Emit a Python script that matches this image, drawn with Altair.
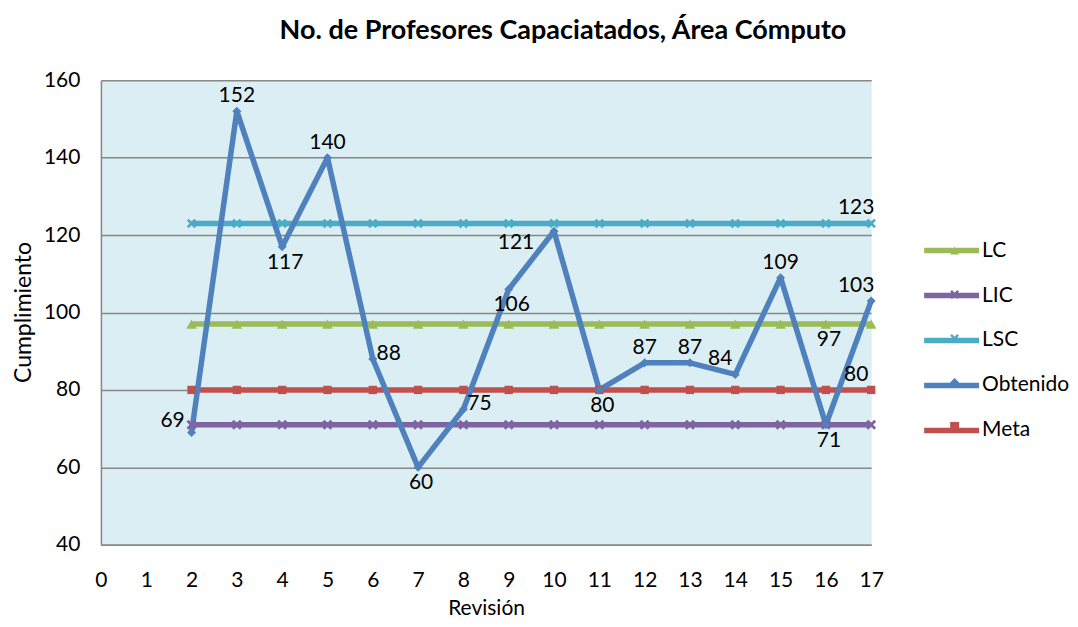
import altair as alt
import pandas as pd

# ---------------- data ----------------
revision = [2, 3, 4, 5, 6, 7, 8, 9, 10, 11, 12, 13, 14, 15, 16, 17]
lc = [97, 97, 97, 97, 97, 97, 97, 97, 97, 97, 97, 97, 97, 97, 97, 97]
lic = [71, 71, 71, 71, 71, 71, 71, 71, 71, 71, 71, 71, 71, 71, 71, 71]
lsc = [123, 123, 123, 123, 123, 123, 123, 123, 123, 123, 123, 123, 123, 123, 123, 123]
obtenido = [69, 152, 117, 140, 88, 60, 75, 106, 121, 80, 87, 87, 84, 109, 71, 103]
meta = [80, 80, 80, 80, 80, 80, 80, 80, 80, 80, 80, 80, 80, 80, 80, 80]

x_ticks = [0, 1, 2, 3, 4, 5, 6, 7, 8, 9, 10, 11, 12, 13, 14, 15, 16, 17]
y_ticks = [40, 60, 80, 100, 120, 140, 160]

series_names = ["LC", "LIC", "LSC", "Obtenido", "Meta"]
series_colors = ["#9BBB59", "#8064A2", "#4BACC6", "#4F81BD", "#C0504D"]

# label placement of the data labels of "Obtenido" (one per point)
obtenido_label_pos = ["left", "above", "below", "above", "right", "below", "right",
                      "below", "belowleft", "below", "above", "above", "aboveleft",
                      "above", "below", "aboveleft"]
# extra labels on other series: (series, revision, placement)
extra_labels = [("LC", 16, "below"), ("Meta", 17, "aboveleft"), ("LSC", 17, "aboveleft")]

# ---------------- styles ----------------
FONT = "Lato"
GRID = "#878787"
x_shape_path = "M-1,-0.6L-0.6,-1L0,-0.4L0.6,-1L1,-0.6L0.4,0L1,0.6L0.6,1L0,0.4L-0.6,1L-1,0.6L-0.4,0Z"
series_shapes = ["triangle-up", x_shape_path, x_shape_path, "diamond", "square"]
series_sizes = [110, 70, 70, 95, 150]
placement_offsets = {
    "above": (0, -15),
    "below": (3, 16),
    "left": (-19, -12),
    "right": (16, -5),
    "aboveleft": (-15, -15),
    "belowleft": (-38, 12),
}

values = {"LC": lc, "LIC": lic, "LSC": lsc, "Obtenido": obtenido, "Meta": meta}
draw_order = ["LC", "LIC", "LSC", "Meta", "Obtenido"]

rows = []
for name in draw_order:
    for r, v in zip(revision, values[name]):
        rows.append({"Revisión": r, "valor": v, "serie": name})
df = pd.DataFrame(rows)

label_rows = []
for r, v, p in zip(revision, obtenido, obtenido_label_pos):
    label_rows.append({"Revisión": r, "valor": v, "texto": str(v), "pos": p})
for name, r, p in extra_labels:
    v = values[name][revision.index(r)]
    label_rows.append({"Revisión": r, "valor": v, "texto": str(v), "pos": p})
labels_df = pd.DataFrame(label_rows)

# ---------------- encodings ----------------
x_enc = alt.X(
    "Revisión:Q",
    scale=alt.Scale(domain=[0, 17], nice=False, zero=False),
    axis=alt.Axis(
        values=x_ticks, grid=False, ticks=False, domain=True, domainColor=GRID,
        domainWidth=1.5, labelPadding=25, labelFontSize=21, labelFont=FONT,
        labelColor="black", labelFlush=False, labelOverlap=False, format="d",
        title="Revisión", titleFont=FONT, titleFontSize=21, titleFontWeight="normal",
        titleColor="black", titleX=385.5, titleY=70, titleBaseline="alphabetic",
        titleAlign="center",
    ),
)
y_enc = alt.Y(
    "valor:Q",
    scale=alt.Scale(domain=[40, 160], nice=False, zero=False),
    axis=alt.Axis(
        values=y_ticks, grid=True, gridColor=GRID, gridWidth=1.5, gridOpacity=1,
        ticks=False, domain=True, domainColor=GRID, domainWidth=1.5,
        labelPadding=21, labelFontSize=21, labelFont=FONT, labelColor="black",
        title="Cumplimiento", titleFont=FONT, titleFontSize=23,
        titleFontWeight="normal", titleColor="black", titleX=-77, titleY=232,
        titleBaseline="middle", titleAlign="center", titleAngle=-90,
    ),
)

color_scale = alt.Scale(domain=series_names, range=series_colors)

line_legend = alt.Legend(
    orient="none", legendX=841, legendY=160, title=None,
    symbolType="M-5.5,0H5.5", symbolSize=100, symbolStrokeWidth=5.5,
    labelOffset=20, labelFontSize=21, labelFont=FONT, labelColor="black",
    rowPadding=22, padding=0, labelLimit=200,
)
point_legend = alt.Legend(
    orient="none", legendX=844, legendY=160, title=None,
    symbolSize=80, symbolStrokeWidth=0,
    labelOffset=20, labelFontSize=21, labelFont=FONT, labelColor="transparent",
    labelExpr="' '",
    rowPadding=22, padding=0, labelLimit=200,
)

lines = alt.Chart(df).mark_line(strokeWidth=5.5, strokeJoin="round").encode(
    x=x_enc,
    y=y_enc,
    color=alt.Color("serie:N", scale=color_scale, legend=line_legend),
)

points = alt.Chart(df).mark_point(filled=True, opacity=1).encode(
    x=x_enc,
    y=y_enc,
    color=alt.Color("serie:N", scale=color_scale, legend=point_legend),
    shape=alt.Shape("serie:N", scale=alt.Scale(domain=series_names, range=series_shapes),
                    legend=point_legend),
    size=alt.Size("serie:N", scale=alt.Scale(domain=series_names, range=series_sizes),
                  legend=None),
)

text_layers = []
for pos, (dx, dy) in placement_offsets.items():
    text_layers.append(
        alt.Chart(labels_df).transform_filter(alt.datum.pos == pos)
        .mark_text(dx=dx, dy=dy, fontSize=21, font=FONT, color="black",
                   align="center", baseline="middle")
        .encode(x=x_enc, y=y_enc, text="texto:N")
    )

chart = alt.layer(lines, points, *text_layers).resolve_legend(
    color="independent", shape="independent"
).properties(
    width=771,
    height=465,
    autosize=alt.AutoSizeParams(type="none"),
    padding={"left": 93, "top": 72, "right": 199, "bottom": 74},
    title=alt.TitleParams(
        "No. de Profesores Capaciatados, Área Cómputo",
        font=FONT, fontSize=27, fontWeight="bold", color="black",
        anchor="middle", dx=77, dy=5, offset=2, baseline="bottom",
    ),
).configure_view(fill="#DBEEF3", stroke="transparent")

chart.save("out.html", embed_options={"renderer": "svg", "actions": False})
